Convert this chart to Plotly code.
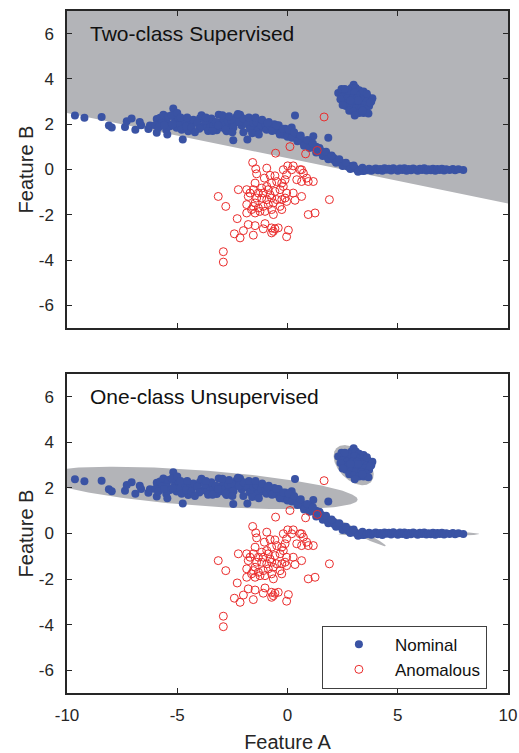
import numpy as np
import plotly.graph_objects as go

# ---------------- data ----------------
x_range = [-10, 10]
y_range = [-7, 7]
x_ticks = [-10, -5, 0, 5, 10]
x_tick_labels = ["-10", "-5", "0", "5", "10"]
y_ticks = [-6, -4, -2, 0, 2, 4, 6]
y_tick_labels = ["-6", "-4", "-2", "0", "2", "4", "6"]

nominal_x = [
    -9.64, -9.21, -8.43, -8.10, -7.97, -7.37, -7.29, -7.07, -6.64, -6.31, -6.24, -5.93, -5.93, -5.78,
    -5.63, -5.48, -5.33, -5.18, -5.10, -5.03, -4.88, -4.75, -4.65, -4.50, -4.42, -4.27, -3.97, -3.82,
    -3.66, -3.51, -3.36, -3.21, -3.12, -3.06, -2.91, -2.76, -2.61, -2.46, -2.38, -2.30, -2.15, -2.08,
    -1.93, -1.82, -1.62, -1.47, -1.32, -1.25, -1.10, -0.87, -0.64, -0.42, -0.19, 0.11, 0.19, 0.34,
    0.49, 0.64, 0.79, 0.94, 1.17, 1.10, 1.25, 1.40, 1.55, 1.70, 1.85, 1.93, 2.08, 2.23, 2.38, 2.53,
    2.68, 2.83, 2.98, 3.14, 3.29, 3.44,
    -5.70, -5.50, -5.40, -5.20, -4.95, -4.80, -4.60, -4.35, -4.10, -4.00, -3.75, -3.60, -3.45, -3.25,
    -3.00, -2.85, -2.70, -2.55, -2.45, -2.20, -2.00, -1.80, -1.70, -1.55, -1.40, -1.20, -1.00, -0.95,
    -0.75, -0.55, -0.30, -0.05, 0.00, 0.25, 0.40, 0.55, 0.70, 0.85, 1.00, 1.05, 1.20, 1.30, 1.35,
    1.45, 1.50, 1.60, 1.65, 1.75, 1.80, 1.90, 2.00, 2.10, 2.15, 2.30, 2.45, 2.60, 2.75, 2.90, 3.05,
    3.20, 3.35, 3.50,
    -6.90, -6.70, -6.00, -5.85, -5.60, -5.45, -5.25, -5.00, -4.85, -4.55, -4.20, -3.90, -3.70, -3.40,
    -3.15, -2.95, -2.80, -2.65, -2.50, -2.25, -2.00, -1.75, -1.60, -1.45, -1.30, -1.15, -0.85, -0.60,
    -0.40, -0.10,
    -0.90, -0.70, -0.50, -0.35, -0.20, 0.05, 0.20, 0.30, 0.45, 0.60, 0.75, 0.90, 1.00, 1.15, 1.30,
    1.45, 1.60, 1.75, 1.85, 2.00, 2.20, 2.35, 2.50, 2.65, 2.85, 3.00, 3.20, 3.40,
    3.60, 3.70, 3.80, 3.90, 4.00, 4.10, 4.20, 4.30, 4.40, 4.50, 4.60, 4.70, 4.80, 4.90, 5.00, 5.10,
    5.20, 5.30, 5.40, 5.50, 5.60, 5.70, 5.80, 5.90, 6.00, 6.10, 6.20, 6.30, 6.40, 6.50, 6.60, 6.70,
    6.80, 6.90, 7.00, 7.10, 7.20, 7.35, 7.50, 7.60, 7.75, 7.97,
    3.00, 2.90, 3.10, 2.75, 3.25, 2.30, 2.45, 2.60, 2.85, 3.05, 3.30, 3.50, 3.65, 2.50, 2.70, 2.95,
    3.15, 3.40, 3.60, 3.80, 3.85, 2.55, 2.75, 3.00, 3.25, 3.50, 3.70, 2.65, 2.90, 3.10, 3.35, 3.55,
    2.80, 3.00, 3.25, 3.45, 3.67, 3.05, 2.85, 3.20, 3.40, 2.45, 2.60, 3.45, 2.40, 3.75, 2.50, 3.60,
]
nominal_y = [
    2.38, 2.29, 2.32, 1.94, 1.86, 1.88, 2.13, 2.25, 1.95, 1.79, 1.94, 1.62, 2.23, 2.28,
    2.42, 2.20, 1.91, 2.69, 2.20, 1.84, 1.98, 1.32, 2.13, 1.69, 2.06, 2.20, 2.26, 1.91,
    1.84, 2.03, 1.94, 1.73, 2.42, 2.06, 2.20, 1.69, 1.91, 1.29, 2.06, 2.35, 2.42, 1.94,
    2.06, 1.32, 2.20, 1.91, 1.76, 2.13, 1.84, 1.91, 1.76, 1.69, 1.54, 1.47, 1.86, 2.39,
    1.47, 1.32, 1.25, 1.15, 1.47, 1.03, 0.96, 0.88, 0.81, 0.66, 1.40, 0.59, 0.52, 0.41, 0.32, 0.26,
    0.18, 0.15, 0.07, 0.00, -0.03, -0.07,
    2.05, 1.75, 2.35, 2.00, 2.30, 1.75, 1.90, 1.85, 2.05, 1.80, 2.15, 1.70, 2.25, 2.10,
    1.85, 1.95, 2.15, 2.20, 1.85, 2.10, 2.25, 2.00, 1.80, 2.05, 2.10, 1.95, 2.00, 1.75,
    1.85, 1.80, 1.65, 1.60, 1.45, 1.55, 1.40, 1.35, 1.20, 1.22, 1.08, 1.20, 0.98, 1.00, 0.85,
    0.82, 0.75, 0.72, 0.70, 0.62, 0.58, 0.52, 0.50, 0.42, 0.45, 0.35, 0.28, 0.20, 0.12, 0.10, 0.05,
    -0.02, -0.05, -0.04,
    1.75, 2.10, 1.95, 1.85, 1.95, 1.55, 2.40, 2.50, 2.30, 2.30, 1.65, 2.40, 2.30, 1.70,
    1.95, 2.40, 1.75, 2.35, 1.65, 2.45, 1.65, 2.30, 1.60, 2.30, 1.55, 2.20, 2.10, 2.00,
    1.95, 1.80,
    2.05, 1.70, 1.95, 1.55, 1.80, 1.75, 1.40, 1.65, 1.25, 1.50, 1.05, 1.30, 0.95, 1.15, 0.75,
    0.95, 0.60, 0.78, 0.45, 0.62, 0.30, 0.45, 0.15, 0.30, 0.02, 0.18, -0.10, 0.08,
    -0.02, 0.03, -0.05, 0.00, 0.04, -0.03, 0.02, -0.06, 0.05, -0.01, 0.03, -0.04, 0.06, 0.00, -0.05, 0.04,
    -0.02, 0.05, -0.06, 0.02, -0.03, 0.04, 0.00, -0.05, 0.03, -0.02, 0.05, -0.04, 0.01, -0.03, 0.03, -0.05,
    0.02, -0.02, 0.03, -0.04, 0.01, -0.02, 0.02, -0.03, 0.01, -0.02,
    3.74, 3.60, 3.60, 3.50, 3.50, 3.38, 3.40, 3.35, 3.35, 3.40, 3.30, 3.25, 3.20, 3.20, 3.15, 3.15,
    3.15, 3.05, 3.00, 3.00, 3.15, 3.00, 2.95, 2.95, 2.90, 2.85, 2.80, 2.80, 2.75, 2.70, 2.70, 2.65,
    2.60, 2.55, 2.50, 2.50, 2.47, 2.38, 3.05, 3.05, 2.60, 3.55, 3.55, 3.45, 3.10, 2.95, 2.85, 3.35,
]

anomalous_x = [
    -0.54, 0.11, 0.82, 1.35, 1.66, -1.58, -1.44, -1.40, -0.94, -0.79, -1.05, -0.57,
    0.01, 0.26, 0.19, 0.64, 0.72, 0.87, 0.42, 0.64, 1.17, 0.94,
    -0.04, -0.11, -0.26, -0.19, -0.49, -0.72, -0.94, -0.87, -1.17, -1.47, -1.55, -1.70, -2.23, -1.85,
    -1.78, -1.32, -1.10, -0.79, -0.57, -0.34, -0.04, -0.11, 0.26, 0.64, 0.34, -0.04, -0.26, -0.49,
    -0.72, -0.94, -1.17, -1.40, -1.47, -1.55, -1.32, -1.10, -0.87, -0.64, -0.34, -0.72, -1.02, -1.25,
    -1.47, -1.63, -1.85, -1.85, -0.64, -0.26,
    -3.14, -2.80, -2.28, -1.78, -1.47, -1.02, -0.72, -0.64, -0.57, -0.42, -0.72, 0.04, -0.04, -2.00,
    -2.41, -2.15, -1.55, -1.10, 0.94, 1.25, 1.90, -2.91, -2.91, -0.19, 0.57,
]
anomalous_y = [
    0.72, 1.01, 0.69, 0.84, 2.32, 0.31, 0.03, -0.19, 0.06, -0.26, -0.38, -0.28,
    0.16, 0.16, -0.01, -0.01, -0.16, -0.38, -0.45, -0.53, -0.53, -0.53,
    -0.23, -0.45, -0.60, -0.75, -0.53, -0.60, -0.75, -0.89, -0.82, -0.60, -0.89, -1.04, -0.89, -0.89,
    -1.19, -1.04, -1.04, -1.12, -0.97, -0.89, -1.04, -1.26, -1.04, -1.19, -1.36, -1.41, -1.33, -1.33,
    -1.26, -1.33, -1.26, -1.26, -1.48, -1.63, -1.70, -1.63, -1.55, -1.48, -1.63, -1.77, -1.85, -1.85,
    -1.92, -1.77, -1.55, -1.92, -1.99, -1.77,
    -1.19, -1.63, -2.17, -2.43, -2.48, -2.39, -2.58, -2.73, -2.62, -2.58, -2.80, -2.68, -2.97, -2.70,
    -2.84, -3.02, -2.90, -2.62, -1.99, -1.92, -1.33, -3.63, -4.09, -0.01, -0.01,
]

# two-class supervised decision boundary (nominal side above): y = intercept + slope * x
boundary_intercept = 0.5
boundary_slope = -0.2

# one-class support regions (ellipses): centre, semi-axes, rotation (deg)
ell_cx = [-4.0, 3.0, 5.5, 3.02]
ell_cy = [2.0, 3.0, -0.02, 0.15]
ell_a = [7.2, 1.08, 3.2, 1.6]
ell_b = [0.78, 0.66, 0.12, 0.13]
ell_ang = [-4.1, -43.0, 0.0, -26.0]

# ---------------- style ----------------
FONT = "Liberation Sans, Arial, sans-serif"
AXC = "#262626"
GRAY = "rgb(179,180,184)"
BLUE = "#3a53a4"
RED = "#ea2c2c"

fig = go.Figure()

# top: supervised region
bx = [x_range[0], x_range[1], x_range[1], x_range[0]]
by = [boundary_intercept + boundary_slope * x_range[0],
      boundary_intercept + boundary_slope * x_range[1],
      y_range[1], y_range[1]]
fig.add_trace(go.Scatter(x=bx, y=by, fill="toself", fillcolor=GRAY, mode="lines",
                         line=dict(width=0, color=GRAY), hoverinfo="skip",
                         showlegend=False, xaxis="x", yaxis="y"))

# bottom: one-class ellipses
t = np.linspace(0, 2 * np.pi, 240)
for cx, cy, a, b, ang in zip(ell_cx, ell_cy, ell_a, ell_b, ell_ang):
    th = np.deg2rad(ang)
    ex = cx + a * np.cos(t) * np.cos(th) - b * np.sin(t) * np.sin(th)
    ey = cy + a * np.cos(t) * np.sin(th) + b * np.sin(t) * np.cos(th)
    fig.add_trace(go.Scatter(x=ex, y=ey, fill="toself", fillcolor=GRAY, mode="lines",
                             line=dict(width=0, color=GRAY), hoverinfo="skip",
                             showlegend=False, xaxis="x2", yaxis="y2"))

for xa, ya, show in [("x", "y", False), ("x2", "y2", True)]:
    fig.add_trace(go.Scatter(x=nominal_x, y=nominal_y, mode="markers", name="Nominal",
                             marker=dict(size=8, color=BLUE, line=dict(width=0)),
                             showlegend=show, xaxis=xa, yaxis=ya))
    fig.add_trace(go.Scatter(x=anomalous_x, y=anomalous_y, mode="markers", name="Anomalous",
                             marker=dict(size=8, symbol="circle-open", color=RED,
                                         line=dict(width=1, color=RED)),
                             showlegend=show, xaxis=xa, yaxis=ya))

common = dict(showline=True, linecolor=AXC, linewidth=1.5, mirror="allticks",
              ticks="inside", ticklen=5, tickwidth=1.3, tickcolor=AXC,
              showgrid=False, zeroline=False, automargin=False,
              tickfont=dict(family=FONT, size=17, color=AXC))

fig.update_layout(
    width=519, height=753,
    margin=dict(l=67, r=11, t=11, b=60),
    paper_bgcolor="white", plot_bgcolor="white",
    font=dict(family=FONT, color=AXC),
    xaxis=dict(domain=[0, 1], anchor="y", range=x_range, tickvals=x_ticks,
               ticktext=x_tick_labels, showticklabels=False, **common),
    yaxis=dict(domain=[0.5352, 1], anchor="x", range=y_range, tickvals=y_ticks,
               ticktext=y_tick_labels, ticklabelstandoff=8,
               title=dict(text="Feature B", font=dict(family=FONT, size=20, color=AXC), standoff=0),
               **common),
    xaxis2=dict(domain=[0, 1], anchor="y2", range=x_range, tickvals=x_ticks,
                ticktext=x_tick_labels, ticklabelstandoff=6,
                title=dict(text="Feature A", font=dict(family=FONT, size=20, color=AXC), standoff=11),
                **common),
    yaxis2=dict(domain=[0, 0.4677], anchor="x2", range=y_range, tickvals=y_ticks,
                ticktext=y_tick_labels, ticklabelstandoff=8,
                title=dict(text="Feature B", font=dict(family=FONT, size=20, color=AXC), standoff=0),
                **common),
    legend=dict(x=0.578, y=0.0987, xanchor="left", yanchor="top",
                bgcolor="white", bordercolor="#404040", borderwidth=1,
                font=dict(family=FONT, size=17, color="#111111"),
                itemwidth=62),
    annotations=[
        dict(text="Two-class Supervised", x=-9.05, y=6.0, xref="x", yref="y",
             xanchor="left", yanchor="middle", showarrow=False,
             font=dict(family=FONT, size=21, color="#111111")),
        dict(text="One-class Unsupervised", x=-9.05, y=6.0, xref="x2", yref="y2",
             xanchor="left", yanchor="middle", showarrow=False,
             font=dict(family=FONT, size=21, color="#111111")),
    ],
)

fig.write_html("out.html")
